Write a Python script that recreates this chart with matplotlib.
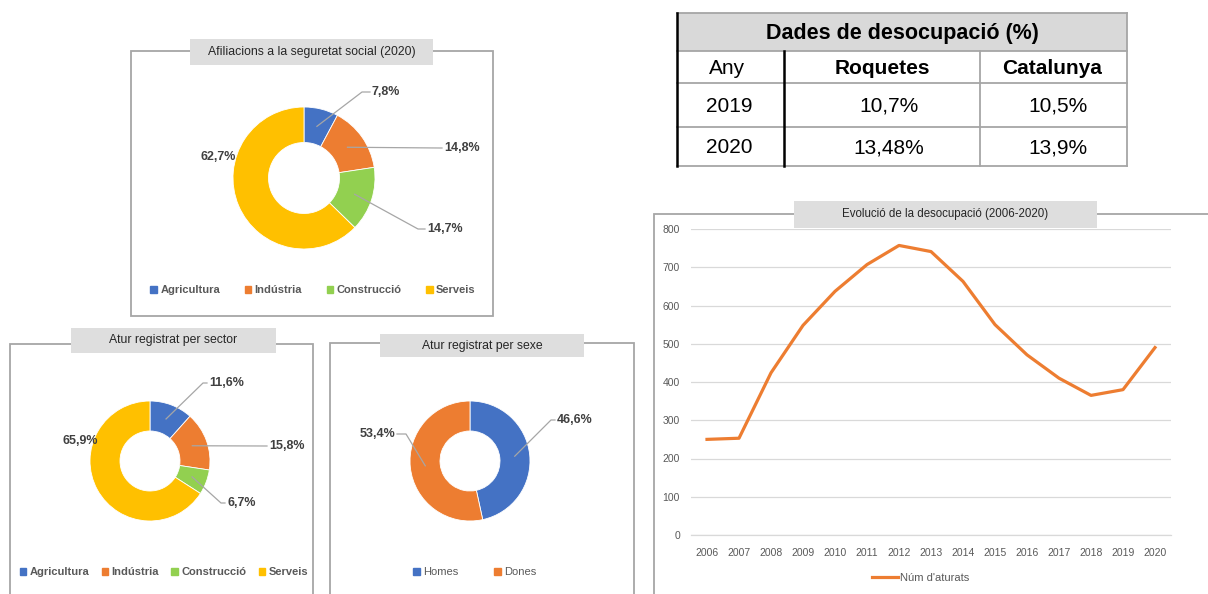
import numpy as np
import matplotlib
matplotlib.use("Agg")
import matplotlib.pyplot as plt
from matplotlib.patches import Rectangle, Patch
from matplotlib.lines import Line2D

plt.rcParams['font.family'] = ['Liberation Sans', 'DejaVu Sans']

# Data
sectors = ["Agricultura", "Indústria", "Construcció", "Serveis"]
afiliacions = [7.8, 14.8, 14.7, 62.7]
atur_sector = [11.6, 15.8, 6.7, 65.9]
sexes = ["Homes", "Dones"]
atur_sexe = [46.6, 53.4]

anys = [2006, 2007, 2008, 2009, 2010, 2011, 2012, 2013, 2014, 2015, 2016, 2017, 2018, 2019, 2020]
aturats = [250, 253, 424, 548, 637, 707, 757, 741, 663, 550, 471, 410, 365, 380, 490]

taula_cap = ["Any", "Roquetes", "Catalunya"]
taula_anys = ["2019", "2020"]
taula_roquetes = ["10,7%", "13,48%"]
taula_catalunya = ["10,5%", "13,9%"]

sector_cols = ["#4472C4", "#ED7D31", "#92D050", "#FFC000"]
sexe_cols = ["#4472C4", "#ED7D31"]

W, H = 1208, 594
fig = plt.figure(figsize=(W / 100, H / 100), dpi=100)

# background axes in pixel units (y up)
bg = fig.add_axes([0, 0, 1, 1])
bg.axis('off')


def Y(y):
    return H - y


def panel(x0, y0, x1, y1, tx0, tx1, ty0, ty1, title, fs=8.8):
    bg.add_patch(Rectangle((x0, Y(y1)), x1 - x0, y1 - y0, fill=False, ec="#A6A6A6", lw=1.3))
    bg.add_patch(Rectangle((tx0, Y(ty1)), tx1 - tx0, ty1 - ty0, fc="#DEDEDE", ec="none", zorder=3))
    bg.text((tx0 + tx1) / 2, Y((ty0 + ty1) / 2), title, ha="center", va="center",
            fontsize=fs, color="#262626", zorder=4)


def donut(vals, cols, cx, cy, R, labels):
    bg.pie(vals, colors=cols, startangle=90, counterclock=False, center=(cx, Y(cy)),
           radius=R, wedgeprops=dict(width=R * 0.5, edgecolor="white", linewidth=0.6))
    cum = np.cumsum([0] + list(vals))
    tot = sum(vals)
    for i, v in enumerate(vals):
        txt = ("%.1f%%" % v).replace(".", ",")
        lx, ly, elbow, ha = labels[i]
        if elbow is None:
            bg.text(lx, Y(ly), txt, ha=ha, va="center", fontsize=9, fontweight="bold", color="#404040")
            continue
        ang = np.deg2rad(90 - 360 * (cum[i] + v / 2) / tot)
        ax_, ay_ = cx + 0.75 * R * np.cos(ang), cy - 0.75 * R * np.sin(ang)
        ex, ey = elbow
        endx = lx - 2 if ha == "left" else lx + 2
        bg.plot([ax_, ex, endx], [Y(ay_), Y(ey), Y(ly)], color="#A6A6A6", lw=0.9)
        bg.text(lx, Y(ly), txt, ha=ha, va="center", fontsize=9, fontweight="bold", color="#404040")


def legend_boxes(cols, names, xc, yc, colsp, bold):
    leg = fig.legend([Patch(color=c) for c in cols], names, loc="center",
                     bbox_to_anchor=(xc / W, 1 - yc / H), ncol=len(names), frameon=False,
                     handlelength=0.6, handleheight=0.6, handletextpad=0.3, columnspacing=colsp,
                     labelcolor="#595959",
                     prop=dict(size=8, weight="bold" if bold else "normal"))
    return leg


# Top donut: afiliacions
panel(131, 51, 493, 316, 190, 433, 39, 65, "Afiliacions a la seguretat social (2020)")
donut(afiliacions, sector_cols, 304, 178, 71,
      [(372, 92, (362, 92), "left"), (444, 148, (440, 148), "left"),
       (427, 229, (418, 229), "left"), (218, 157, None, "center")])
legend_boxes(sector_cols, sectors, 313, 290, 2.2, True)

# Bottom-left donut: atur per sector
panel(10, 344, 313, 600, 71, 276, 328, 353, "Atur registrat per sector")
donut(atur_sector, sector_cols, 150, 461, 60,
      [(209, 383, (203, 383), "left"), (269, 446, (266, 446), "left"),
       (227, 503, (221, 503), "left"), (80, 441, None, "center")])
legend_boxes(sector_cols, sectors, 164, 572, 1.1, True)

# Bottom-middle donut: atur per sexe
panel(330, 343, 634, 600, 380, 584, 334, 357, "Atur registrat per sexe")
donut(atur_sexe, sexe_cols, 470, 461, 60,
      [(557, 420, (551, 420), "left"), (395, 434, (406, 434), "right")])
legend_boxes(sexe_cols, sexes, 475, 572, 3.2, False)

# Line chart panel
panel(654, 214, 1215, 600, 794, 1097, 201, 228, "Evolució de la desocupació (2006-2020)", fs=8.3)
ax = fig.add_axes([691 / W, 1 - 535 / H, (1171 - 691) / W, (535 - 229) / H])
ax.plot(anys, aturats, color="#ED7D31", lw=2.3, solid_joinstyle="round", label="Núm d'aturats")
ax.set_xlim(anys[0] - 0.5, anys[-1] + 0.5)
ax.set_ylim(0, 800)
ax.set_yticks(range(0, 801, 100))
ax.set_xticks(anys)
ax.grid(axis="y", color="#D9D9D9", lw=0.9)
ax.axhline(0, color="#D9D9D9", lw=0.9, clip_on=False, zorder=0)
ax.set_axisbelow(True)
for s in ax.spines.values():
    s.set_visible(False)
ax.tick_params(length=0, labelsize=7.5, colors="#595959")
ax.tick_params(axis="y", pad=8)
ax.tick_params(axis="x", pad=9)
ax.set_facecolor("none")
fig.legend([Line2D([0], [0], color="#ED7D31", lw=2.3)], ["Núm d'aturats"], loc="center",
           bbox_to_anchor=(921 / W, 1 - 578 / H), frameon=False, fontsize=8,
           handlelength=2.3, handletextpad=0.2, labelcolor="#595959")

# Table
tx = [677, 784, 980, 1127]
ty = [13, 51, 83, 127, 166]
bg.add_patch(Rectangle((tx[0], Y(ty[1])), tx[3] - tx[0], ty[1] - ty[0], fc="#D9D9D9", ec="none"))
bg.text((tx[0] + tx[3]) / 2, Y((ty[0] + ty[1]) / 2 + 1), "Dades de desocupació (%)",
        ha="center", va="center", fontsize=15.5, fontweight="bold", color="black")
for yy in ty:
    bg.plot([tx[0], tx[3]], [Y(yy), Y(yy)], color="#A6A6A6", lw=1.3)
bg.plot([tx[3], tx[3]], [Y(ty[0]), Y(ty[-1])], color="#A6A6A6", lw=1.3)
bg.plot([tx[2], tx[2]], [Y(ty[1]), Y(ty[-1])], color="#A6A6A6", lw=1.3)
bg.plot([tx[1], tx[1]], [Y(ty[1]), Y(ty[-1])], color="black", lw=1.8)
bg.plot([tx[0], tx[0]], [Y(ty[0]), Y(ty[-1])], color="black", lw=1.8)

rows = [taula_cap] + [[a, r, c] for a, r, c in zip(taula_anys, taula_roquetes, taula_catalunya)]
col_x = [[727, 882, 1052], [729, 889, 1058], [729, 889, 1058]]
for ri, row in enumerate(rows):
    yc = Y((ty[ri + 1] + ty[ri + 2]) / 2 + 1)
    for ci, val in enumerate(row):
        w = "bold" if (ri == 0 and ci > 0) else "normal"
        bg.text(col_x[ri][ci], yc, val, ha="center", va="center", fontsize=15, fontweight=w, color="black")

# pie() resets limits, so set the pixel frame last
bg.set_xlim(0, W)
bg.set_ylim(0, H)
bg.set_aspect("auto")

fig.savefig("out.png", dpi=100, facecolor="white")
